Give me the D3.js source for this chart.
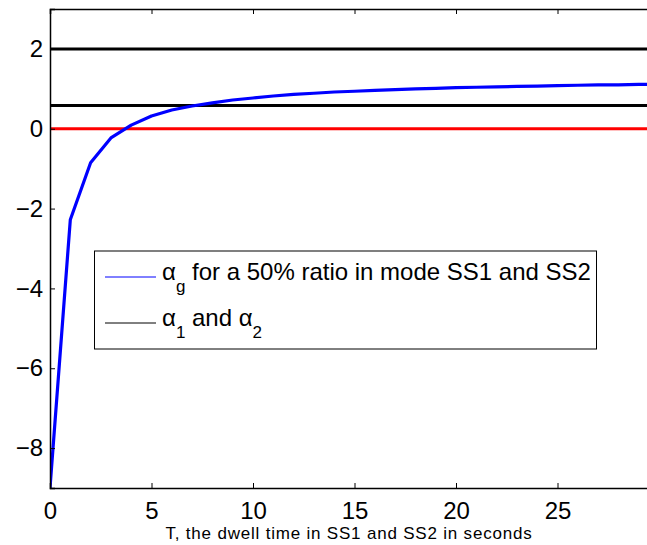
<!DOCTYPE html>
<html>
<head>
<meta charset="utf-8">
<script src="https://cdn.jsdelivr.net/npm/d3@7"></script>
<style>
  body { margin: 0; background: #fff; }
  svg { font-family: "Liberation Sans", Arial, Helvetica, sans-serif; }
</style>
</head>
<body>
<svg id="chart" width="647" height="545"></svg>
<script>
// dwell time T (s) and the resulting alpha_g
const dwellTime = [0, 1, 2, 3, 4, 5, 6, 7, 8, 9, 10, 11, 12, 13, 14, 15, 16, 17, 18, 19, 20,
                   21, 22, 23, 24, 25, 26, 27, 28, 29, 30];
const alphaG = [-9.0, -2.28, -0.85, -0.23, 0.09, 0.32, 0.47, 0.57, 0.65, 0.72, 0.77, 0.82, 0.86,
                0.89, 0.92, 0.94, 0.96, 0.98, 1.0, 1.01, 1.03, 1.04, 1.05, 1.06, 1.07, 1.08,
                1.09, 1.1, 1.1, 1.11, 1.12];
// constant levels alpha_1 and alpha_2, and zero
const alphaLevels = [2, 0.58];
const zeroLevel = 0;

const xTicks = [0, 5, 10, 15, 20, 25];
const yTicks = [-8, -6, -4, -2, 0, 2];

const legendLabels = [
    { sym: "α", sub: "g", rest: " for a 50% ratio in mode SS1 and SS2", color: "#0000ff" },
    { sym: "α", sub: "1", rest: " and ", sym2: "α", sub2: "2", color: "#000000" }
];

const xLabel = "T, the dwell time in SS1 and SS2 in seconds";

let svg = d3.select("svg#chart");
let plotLeft = 50, plotTop = 9, plotBottom = 488, plotRight = 659;

let x = d3.scaleLinear().domain([0, 30]).range([plotLeft, plotRight]);
let y = d3.scaleLinear().domain([-9, 3]).range([plotBottom, plotTop]);

svg.append("defs").append("clipPath").attr("id", "plotClip")
    .append("rect").attr("x", plotLeft).attr("y", plotTop)
    .attr("width", plotRight - plotLeft).attr("height", plotBottom - plotTop);

let plot = svg.append("g").attr("clip-path", "url(#plotClip)");

// black alpha_1 / alpha_2 lines
plot.selectAll("line.level").data(alphaLevels).enter()
    .append("line").attr("class", "level")
    .attr("x1", x(0)).attr("x2", x(30))
    .attr("y1", d => y(d)).attr("y2", d => y(d))
    .attr("stroke", "#000").attr("stroke-width", 3);

// red zero line
plot.append("line")
    .attr("x1", x(0)).attr("x2", x(30))
    .attr("y1", y(zeroLevel)).attr("y2", y(zeroLevel))
    .attr("stroke", "#ff0000").attr("stroke-width", 3);

// blue curve
let line = d3.line().x((d, i) => x(dwellTime[i])).y(d => y(d));
plot.append("path").datum(alphaG)
    .attr("d", line)
    .attr("fill", "none")
    .attr("stroke", "#0000ff")
    .attr("stroke-width", 3.2)
    .attr("stroke-linejoin", "round");

// axes
let xAxis = d3.axisBottom(x).tickValues(xTicks).tickSize(-5).tickPadding(14).tickFormat(d3.format("d"));
let gx = svg.append("g").attr("transform", `translate(0,${plotBottom})`).call(xAxis);

let topAxis = d3.axisTop(x).tickValues(xTicks).tickSize(-5).tickFormat("");
let gt = svg.append("g").attr("transform", `translate(0,${plotTop})`).call(topAxis);

let yAxis = d3.axisLeft(y).tickValues(yTicks).tickSize(-5).tickPadding(7).tickFormat(d3.format("d"));
let gy = svg.append("g").attr("transform", `translate(${plotLeft},0)`).call(yAxis);

[gx, gt, gy].forEach(g => {
    g.select(".domain").attr("stroke", "#000").attr("stroke-width", 1.5);
    g.selectAll(".tick line").attr("stroke", "#000").attr("stroke-width", 1);
    g.selectAll("text").attr("font-size", 24).attr("fill", "#000")
        .attr("font-family", "'Liberation Sans', Arial, sans-serif");
});

svg.append("text")
    .attr("x", 349).attr("y", 539)
    .attr("text-anchor", "middle")
    .attr("font-size", 17)
    .attr("letter-spacing", 0.8)
    .text(xLabel);

// legend
let legend = svg.append("g");
legend.append("rect")
    .attr("x", 94.5).attr("y", 251)
    .attr("width", 502).attr("height", 98)
    .attr("fill", "#fff").attr("stroke", "#000").attr("stroke-width", 1);

let rowY = [280, 326];
legendLabels.forEach((d, i) => {
    legend.append("line")
        .attr("x1", 105).attr("x2", 156)
        .attr("y1", rowY[i] - 3).attr("y2", rowY[i] - 3)
        .attr("stroke", d.color).attr("stroke-width", 1);
    let t = legend.append("text")
        .attr("x", 162).attr("y", rowY[i])
        .attr("font-size", 24);
    t.append("tspan").text(d.sym);
    t.append("tspan").attr("dy", 12).attr("font-size", 17).text(d.sub);
    t.append("tspan").attr("dy", -12).text(d.rest);
    if (d.sym2) {
        t.append("tspan").text(d.sym2);
        t.append("tspan").attr("dy", 12).attr("font-size", 17).text(d.sub2);
    }
});
</script>
</body>
</html>
